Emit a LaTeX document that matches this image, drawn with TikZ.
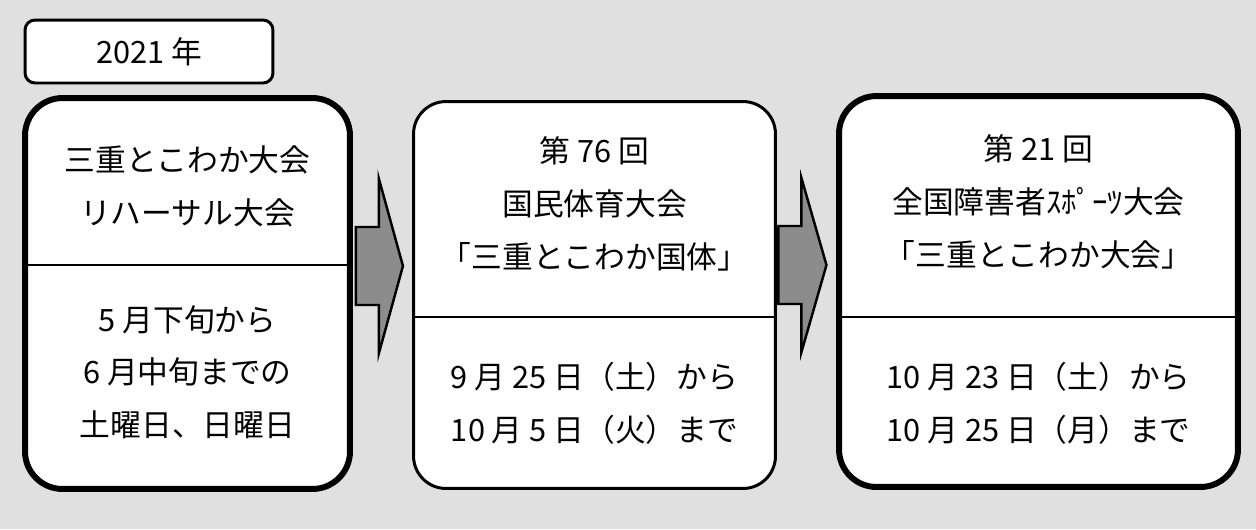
\documentclass[tikz,border=0pt]{standalone}
\usepackage{fontspec}
\setmainfont{Noto Sans CJK JP}
\usetikzlibrary{calc}
\begin{document}
\begin{tikzpicture}[x=0.02cm, y=-0.02cm,
        font=\fontsize{17.5}{30}\selectfont,
        eventbox/.style={draw, fill=white, rounded corners=0.75cm, inner sep=0pt},
        heavy/.style={line width=3.4pt},
        light/.style={line width=1.7pt},
        txt/.style={align=center, inner sep=0pt},
        divider/.style={line width=0.7pt},
        blockarrow/.style={draw, line width=1.4pt, fill=black!45, line join=miter}]
    % scanned paper
    \fill[black!12] (0,0) rectangle (1256,529);
    % year tag
    \node[draw, fill=white, light, rounded corners=0.2cm, minimum width=4.96cm, minimum height=1.26cm] (year) at (149,51.5) {2021 年};
    % the three events
    \node[eventbox, heavy, minimum width=6.5cm, minimum height=7.82cm] (rehearsal) at (187.5,293.5) {};
    \node[eventbox, light, rounded corners=0.65cm, minimum width=7.24cm, minimum height=7.74cm] (kokutai) at (594.5,295) {};
    \node[eventbox, heavy, minimum width=7.98cm, minimum height=7.82cm] (taikai) at (1038.5,291.5) {};
    \draw[divider] (rehearsal.west |- 0,265) -- (rehearsal.east |- 0,265);
    \draw[divider] (kokutai.west |- 0,317) -- (kokutai.east |- 0,317);
    \draw[divider] (taikai.west |- 0,317) -- (taikai.east |- 0,317);
    \node[txt] (rehearsaltitle) at (187.5,186.5) {三重とこわか大会\\リハーサル大会};
    \node[txt] (rehearsaldate) at (187.5,372) {5 月下旬から\\6 月中旬までの\\土曜日、日曜日};
    \node[txt] (kokutaititle) at (594.5,204) {第 76 回\\国民体育大会\\「三重とこわか国体」};
    \node[txt] (kokutaidate) at (594.5,403.5) {9 月 25 日（土）から\\10 月 5 日（火）まで};
    \node[txt] (taikaititle) at (1038.5,202) {第 21 回\\全国障害者ｽﾎﾟｰﾂ大会\\「三重とこわか大会」};
    \node[txt] (taikaidate) at (1038.5,403.5) {10 月 23 日（土）から\\10 月 25 日（月）まで};
    % arrows between the events
    \coordinate (a1) at ($(rehearsal.east)+(0,-27.5)$);
    \coordinate (a2) at ($(kokutai.east)+(0,-30)$);
    \draw[blockarrow, shift={(a1)}] (3,-39) -- (26,-39) -- (26,-87) -- (50,0) -- (26,87) -- (26,39) -- (3,39) -- cycle;
    \draw[blockarrow, shift={(a2)}] (1.5,-39) -- (24.5,-39) -- (24.5,-87) -- (49.5,0) -- (24.5,87) -- (24.5,39) -- (1.5,39) -- cycle;
\end{tikzpicture}
\end{document}
